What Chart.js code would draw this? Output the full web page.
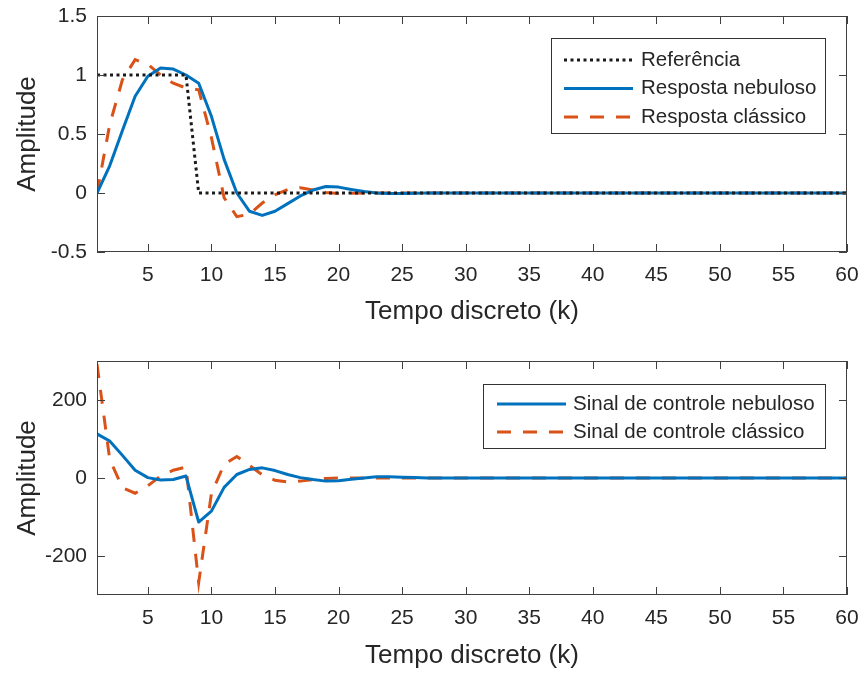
<!DOCTYPE html>
<html>
<head>
<meta charset="utf-8">
<title>Resposta e sinal de controle</title>
<script src="https://cdn.jsdelivr.net/npm/chart.js@4.4.0/dist/chart.umd.min.js"></script>
<style>
  html, body { margin: 0; padding: 0; background: #fff; }
  #wrap { position: relative; width: 862px; height: 673px; }
  canvas { position: absolute; left: 0; }
  #topChart { top: 0; }
  #bottomChart { top: 336px; }
</style>
</head>
<body>
<div id="wrap">
  <canvas id="topChart" width="862" height="336"></canvas>
  <canvas id="bottomChart" width="862" height="337"></canvas>
</div>
<script>
// tempo discreto
const k = [1, 2, 3, 4, 5, 6, 7, 8, 9, 10, 11, 12, 13, 14, 15, 16, 17, 18, 19, 20,
  21, 22, 23, 24, 25, 26, 27, 28, 29, 30, 31, 32, 33, 34, 35, 36, 37, 38, 39, 40,
  41, 42, 43, 44, 45, 46, 47, 48, 49, 50, 51, 52, 53, 54, 55, 56, 57, 58, 59, 60];

// grafico de cima
const referencia = [1, 1, 1, 1, 1, 1, 1, 1, 0, 0, 0, 0, 0, 0, 0, 0, 0, 0, 0, 0,
  0, 0, 0, 0, 0, 0, 0, 0, 0, 0, 0, 0, 0, 0, 0, 0, 0, 0, 0, 0,
  0, 0, 0, 0, 0, 0, 0, 0, 0, 0, 0, 0, 0, 0, 0, 0, 0, 0, 0, 0];
const respostaNebuloso = [0, 0.23, 0.53, 0.82, 0.99, 1.06, 1.05, 1.0, 0.93, 0.65,
  0.285, 0.0, -0.155, -0.19, -0.155, -0.09, -0.025, 0.025, 0.055, 0.05,
  0.03, 0.012, 0.0, -0.005, -0.005, -0.003, 0, 0, 0, 0, 0, 0, 0, 0, 0, 0, 0, 0, 0, 0,
  0, 0, 0, 0, 0, 0, 0, 0, 0, 0, 0, 0, 0, 0, 0, 0, 0, 0, 0, 0];
const respostaClassico = [0, 0.58, 0.96, 1.13, 1.09, 1.0, 0.93, 0.89, 0.875, 0.47,
  -0.04, -0.2, -0.18, -0.085, -0.015, 0.03, 0.045, 0.025, 0.005, -0.005,
  -0.003, 0, 0, 0, 0, 0, 0, 0, 0, 0, 0, 0, 0, 0, 0, 0, 0, 0, 0, 0,
  0, 0, 0, 0, 0, 0, 0, 0, 0, 0, 0, 0, 0, 0, 0, 0, 0, 0, 0, 0];

// grafico de baixo
const sinalNebuloso = [113, 95, 58, 20, 1, -5, -4, 5, -113, -85,
  -24, 9, 22, 26, 19, 9, 1, -4, -8, -7,
  -3, 0, 3, 3, 2, 1, 0, 0, 0, 0, 0, 0, 0, 0, 0, 0, 0, 0, 0, 0,
  0, 0, 0, 0, 0, 0, 0, 0, 0, 0, 0, 0, 0, 0, 0, 0, 0, 0, 0, 0];
const sinalClassico = [292, 48, -25, -39, -20, 5, 20, 28, -268, -40,
  35, 55, 32, 8, -6, -10, -8, -4, -1, 0,
  0, 0, 0, 0, 0, 0, 0, 0, 0, 0, 0, 0, 0, 0, 0, 0, 0, 0, 0, 0,
  0, 0, 0, 0, 0, 0, 0, 0, 0, 0, 0, 0, 0, 0, 0, 0, 0, 0, 0, 0];

const xTicks = [5, 10, 15, 20, 25, 30, 35, 40, 45, 50, 55, 60];
const yTicksTop = [-0.5, 0, 0.5, 1, 1.5];
const yTicksBottom = [-200, 0, 200];

const FONT = '"Liberation Sans", Arial, Helvetica, sans-serif';
const TEXT = '#262626';
const AZUL = '#0072BD';
const LARANJA = '#D95319';

const pts = (ys) => k.map((x, i) => ({ x: x, y: ys[i] }));

// caixa, ticks para dentro e legenda estilo matlab
const matlabBox = {
    id: 'matlabBox',
    afterDatasetsDraw(chart, args, opts) {
        const { ctx, chartArea: a, scales } = chart;
        ctx.save();
        ctx.strokeStyle = '#404040';
        ctx.lineWidth = 1;
        ctx.setLineDash([]);
        ctx.strokeRect(a.left + 0.5, a.top + 0.5, a.right - a.left - 1, a.bottom - a.top - 1);
        ctx.beginPath();
        scales.x.ticks.forEach(t => {
            const px = Math.round(scales.x.getPixelForValue(t.value)) + 0.5;
            ctx.moveTo(px, a.bottom); ctx.lineTo(px, a.bottom - 8);
            ctx.moveTo(px, a.top); ctx.lineTo(px, a.top + 8);
        });
        scales.y.ticks.forEach(t => {
            const py = Math.round(scales.y.getPixelForValue(t.value)) + 0.5;
            ctx.moveTo(a.left, py); ctx.lineTo(a.left + 8, py);
            ctx.moveTo(a.right, py); ctx.lineTo(a.right - 8, py);
        });
        ctx.stroke();

        // legenda
        const L = opts.legend;
        ctx.fillStyle = '#fff';
        ctx.fillRect(L.left, L.top, L.width, L.height);
        ctx.strokeStyle = '#333';
        ctx.strokeRect(L.left + 0.5, L.top + 0.5, L.width, L.height);
        ctx.font = '20.5px ' + FONT;
        ctx.textBaseline = 'middle';
        ctx.textAlign = 'left';
        chart.data.datasets.forEach((ds, i) => {
            const y = L.firstRow + i * L.rowGap;
            ctx.strokeStyle = ds.borderColor;
            ctx.lineWidth = ds.borderWidth;
            ctx.setLineDash(ds.borderDash || []);
            ctx.beginPath();
            ctx.moveTo(L.sampleFrom, y);
            ctx.lineTo(L.sampleTo, y);
            ctx.stroke();
            ctx.fillStyle = TEXT;
            ctx.fillText(ds.label, L.textX, y);
        });
        ctx.restore();
    }
};

const createChart = (elementId, datasets, yMin, yMax, yTicks, area, axisHeight, titlePad, legend) => {
    const chart = new Chart(document.getElementById(elementId).getContext('2d'), {
        type: 'line',
        data: { datasets: datasets },
        options: {
            responsive: false,
            animation: false,
            layout: { padding: { top: area.top, right: 862 - area.right, left: 0, bottom: 0 } },
            plugins: {
                legend: { display: false },
                tooltip: { enabled: false },
                matlabBox: { legend: legend }
            },
            elements: { point: { radius: 0 }, line: { tension: 0 } },
            scales: {
                x: {
                    type: 'linear',
                    min: 1,
                    max: 60,
                    afterBuildTicks: (s) => { s.ticks = xTicks.map(v => ({ value: v })); },
                    afterFit: (s) => { s.height = axisHeight; s.paddingLeft = 0; s.paddingRight = 0; },
                    grid: { display: false, drawTicks: false },
                    border: { display: false },
                    ticks: { color: TEXT, font: { family: FONT, size: 21 }, padding: 11, maxRotation: 0 },
                    title: { display: true, text: 'Tempo discreto (k)', color: TEXT,
                             font: { family: FONT, size: 26 }, padding: { top: 0, bottom: titlePad } }
                },
                y: {
                    min: yMin,
                    max: yMax,
                    afterBuildTicks: (s) => { s.ticks = yTicks.map(v => ({ value: v })); },
                    afterFit: (s) => { s.width = area.left; s.paddingTop = 0; s.paddingBottom = 0; },
                    grid: { display: false, drawTicks: false },
                    border: { display: false },
                    ticks: { color: TEXT, font: { family: FONT, size: 21 }, padding: 10,
                             callback: (v) => String(v) },
                    title: { display: true, text: 'Amplitude', color: TEXT,
                             font: { family: FONT, size: 26 }, padding: { top: 12, bottom: 0 } }
                }
            }
        },
        plugins: [matlabBox]
    });
    // acerta a area do grafico para bater com a figura
    const a = chart.chartArea;
    const p = chart.options.layout.padding;
    p.top += area.top - a.top;
    p.right += a.right - area.right;
    p.left += area.left - a.left;
    chart.update();
    return chart;
};

createChart('topChart', [
    { label: 'Referência', data: pts(referencia), borderColor: '#1a1a1a', borderWidth: 3,
      borderDash: [3, 3.5], borderCapStyle: 'butt' },
    { label: 'Resposta nebuloso', data: pts(respostaNebuloso), borderColor: AZUL, borderWidth: 3,
      borderJoinStyle: 'round' },
    { label: 'Resposta clássico', data: pts(respostaClassico), borderColor: LARANJA, borderWidth: 3,
      borderDash: [14, 12], borderCapStyle: 'butt' }
], -0.5, 1.5, yTicksTop, { left: 97, top: 16, right: 847 }, 84, 9,
   { left: 551, top: 38, width: 274, height: 95, firstRow: 60, rowGap: 28.5,
     sampleFrom: 564, sampleTo: 633, textX: 641 });

createChart('bottomChart', [
    { label: 'Sinal de controle nebuloso', data: pts(sinalNebuloso), borderColor: AZUL, borderWidth: 3,
      borderJoinStyle: 'round' },
    { label: 'Sinal de controle clássico', data: pts(sinalClassico), borderColor: LARANJA, borderWidth: 3,
      borderDash: [14, 12], borderCapStyle: 'butt' }
], -300, 300, yTicksBottom, { left: 97, top: 25, right: 847 }, 78, 2,
   { left: 483, top: 48, width: 342, height: 64, firstRow: 68, rowGap: 28,
     sampleFrom: 497, sampleTo: 566, textX: 573 });
</script>
</body>
</html>
